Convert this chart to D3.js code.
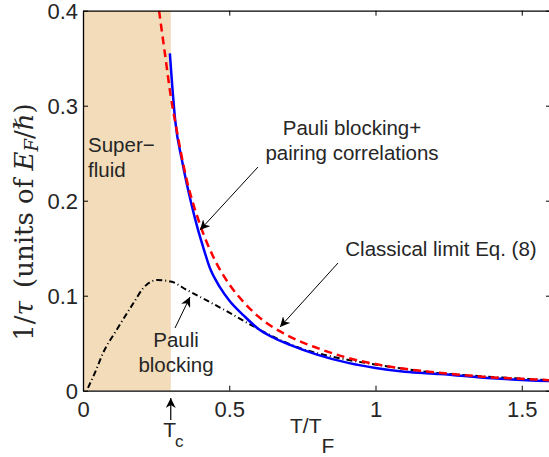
<!DOCTYPE html>
<html>
<head>
<meta charset="utf-8">
<script src="https://cdn.jsdelivr.net/npm/d3@7"></script>
<style>
  body { margin: 0; background: #fff; }
  svg { display: block; }
</style>
</head>
<body>
<svg id="chart" width="549" height="457"></svg>
<script>
// Pauli blocking + pairing correlations (solid blue)
const blueT = [0.297, 0.315, 0.34, 0.368, 0.39, 0.41, 0.434, 0.468, 0.50, 0.55, 0.60, 0.65, 0.71, 0.80, 0.91, 1.0, 1.1, 1.22, 1.4, 1.6];
const blueV = [0.355, 0.285, 0.24, 0.20, 0.173, 0.152, 0.129, 0.109, 0.095, 0.079, 0.065, 0.056, 0.048, 0.038, 0.029, 0.024, 0.020, 0.0176, 0.013, 0.010];

// Classical limit (red dashed)
const redT = [0.26, 0.28, 0.30, 0.32, 0.35, 0.40, 0.45, 0.50, 0.55, 0.60, 0.70, 0.80, 0.90, 1.0, 1.1, 1.2, 1.3, 1.4, 1.5, 1.6];
const redV = [0.40, 0.355, 0.31, 0.275, 0.228, 0.175, 0.138, 0.112, 0.093, 0.078, 0.058, 0.045, 0.035, 0.028, 0.023, 0.0195, 0.0165, 0.014, 0.0125, 0.011];

// Pauli blocking only (black dash-dot)
const blackT = [0.017, 0.041, 0.069, 0.115, 0.172, 0.206, 0.253, 0.30, 0.355, 0.423, 0.513, 0.605, 0.74, 0.85, 0.97, 1.1, 1.2, 1.4, 1.6];
const blackV = [0.003, 0.019, 0.040, 0.064, 0.092, 0.108, 0.1165, 0.115, 0.106, 0.095, 0.080, 0.064, 0.045, 0.036, 0.029, 0.023, 0.019, 0.0145, 0.011];

const Tc = 0.3;
const xTicks = [0, 0.5, 1, 1.5];
const yTicks = [0, 0.1, 0.2, 0.3, 0.4];

const svg = d3.select("#chart");
const font = "'Liberation Sans', Arial, Helvetica, sans-serif";
const ink = "#262626";

const x = d3.scaleLinear().domain([0, 1.6]).range([83, 551]);
const y = d3.scaleLinear().domain([0, 0.4]).range([390.7, 10.7]);

svg.append("defs").append("clipPath").attr("id", "clip")
    .append("rect")
    .attr("x", x(0)).attr("y", y(0.4))
    .attr("width", x(1.6) - x(0)).attr("height", y(0) - y(0.4));

svg.select("defs").append("marker")
    .attr("id", "arrow")
    .attr("viewBox", "0 0 10 10")
    .attr("refX", 10).attr("refY", 5)
    .attr("markerWidth", 10).attr("markerHeight", 10)
    .attr("markerUnits", "userSpaceOnUse")
    .attr("orient", "auto")
    .append("path")
    .attr("d", "M0,0 L10,5 L0,10 L3,5 Z")
    .attr("fill", "#000");

// superfluid region
svg.append("rect")
    .attr("x", x(0)).attr("y", y(0.4))
    .attr("width", x(Tc) - x(0)).attr("height", y(0) - y(0.4))
    .attr("fill", "#f2dcb9");

const line = (ts, vs) => d3.line()
    .x((d, i) => x(ts[i]))
    .y(d => y(d))
    .curve(d3.curveMonotoneX)(vs);

const curves = svg.append("g").attr("clip-path", "url(#clip)").attr("fill", "none");

curves.append("path")
    .attr("d", line(blackT, blackV))
    .attr("stroke", "#000")
    .attr("stroke-width", 2)
    .attr("stroke-dasharray", "6,3,1,3");

curves.append("path")
    .attr("d", line(blueT, blueV))
    .attr("stroke", "#0000ff")
    .attr("stroke-width", 2.5);

curves.append("path")
    .attr("d", line(redT, redV))
    .attr("stroke", "#ff0000")
    .attr("stroke-width", 2.5)
    .attr("stroke-dasharray", "8,5");

// axes, ticks pointing inward
const fmt = d => d === 0 ? "0" : d3.format("")(d);

const axB = svg.append("g")
    .attr("transform", `translate(0,${y(0)})`)
    .call(d3.axisBottom(x).tickValues(xTicks).tickSize(-5).tickSizeOuter(0).tickPadding(11).tickFormat(fmt));
const axL = svg.append("g")
    .attr("transform", `translate(${x(0)},0)`)
    .call(d3.axisLeft(y).tickValues(yTicks).tickSize(-5).tickSizeOuter(0).tickPadding(5).tickFormat(fmt));
const axT = svg.append("g")
    .attr("transform", `translate(0,${y(0.4)})`)
    .call(d3.axisTop(x).tickValues(xTicks).tickSize(-5).tickSizeOuter(0).tickFormat(""));
const axR = svg.append("g")
    .attr("transform", `translate(${x(1.6)},0)`)
    .call(d3.axisRight(y).tickValues(yTicks).tickSize(-5).tickSizeOuter(0).tickFormat(""));

[axB, axL, axT, axR].forEach(a => {
    a.selectAll("path.domain").attr("stroke", "#000").attr("stroke-width", 1.3);
    a.selectAll(".tick line").attr("stroke", "#000").attr("stroke-width", 1);
    a.selectAll("text")
        .attr("font-family", font)
        .attr("font-size", 22)
        .attr("fill", ink);
});
axL.selectAll(".tick text").attr("dy", "0.36em");

// x-axis label T/T_F
const xl = svg.append("text")
    .attr("x", 290).attr("y", 433)
    .attr("font-family", font).attr("font-size", 21).attr("fill", ink);
xl.append("tspan").text("T/T");
xl.append("tspan").attr("dy", 20).text("F");

// T_c marker
const tc = svg.append("text")
    .attr("x", x(Tc) - 7.5).attr("y", 437)
    .attr("font-family", font).attr("font-size", 21).attr("fill", ink);
tc.append("tspan").text("T");
tc.append("tspan").attr("dx", -1).attr("dy", 10).attr("font-size", 17).text("c");

svg.append("line")
    .attr("x1", x(Tc)).attr("y1", 420)
    .attr("x2", x(Tc)).attr("y2", 398)
    .attr("stroke", "#000").attr("stroke-width", 1.2)
    .attr("marker-end", "url(#arrow)");

// y-axis label
const yl = svg.append("text")
    .attr("transform", "translate(33,222) rotate(-90)")
    .attr("text-anchor", "middle")
    .attr("font-family", "'DejaVu Serif', 'Liberation Serif', serif")
    .attr("font-size", 26).attr("fill", ink);
yl.append("tspan").text("1/");
yl.append("tspan").attr("font-style", "italic").text("τ");
yl.append("tspan").text("\u2002(units of ");
yl.append("tspan").attr("font-style", "italic").text("E");
yl.append("tspan").attr("font-style", "italic").attr("font-size", 18).attr("dy", 5).text("F");
yl.append("tspan").attr("dy", -5).text("/ℏ)");

// annotations
const noteLines = [
    { text: "Super\u2212", x: 88, y: 152, anchor: "start" },
    { text: "fluid", x: 88, y: 177, anchor: "start" },
    { text: "Pauli blocking+", x: 352, y: 135, anchor: "middle" },
    { text: "pairing correlations", x: 352, y: 160, anchor: "middle" },
    { text: "Classical limit Eq. (8)", x: 441, y: 256, anchor: "middle" },
    { text: "Pauli", x: 176, y: 347, anchor: "middle" },
    { text: "blocking", x: 176, y: 372, anchor: "middle" }
];
svg.append("g")
    .selectAll("text")
    .data(noteLines)
    .join("text")
    .attr("x", d => d.x).attr("y", d => d.y)
    .attr("text-anchor", d => d.anchor)
    .attr("font-family", font).attr("font-size", 20.5).attr("fill", ink)
    .text(d => d.text);

const arrows = [
    { x1: 258, y1: 167, x2: 200, y2: 230 },
    { x1: 338, y1: 263, x2: 280, y2: 327 },
    { x1: 175, y1: 328, x2: 190, y2: 297 }
];
svg.append("g")
    .selectAll("line")
    .data(arrows)
    .join("line")
    .attr("x1", d => d.x1).attr("y1", d => d.y1)
    .attr("x2", d => d.x2).attr("y2", d => d.y2)
    .attr("stroke", "#000").attr("stroke-width", 1)
    .attr("marker-end", "url(#arrow)");
</script>
</body>
</html>
